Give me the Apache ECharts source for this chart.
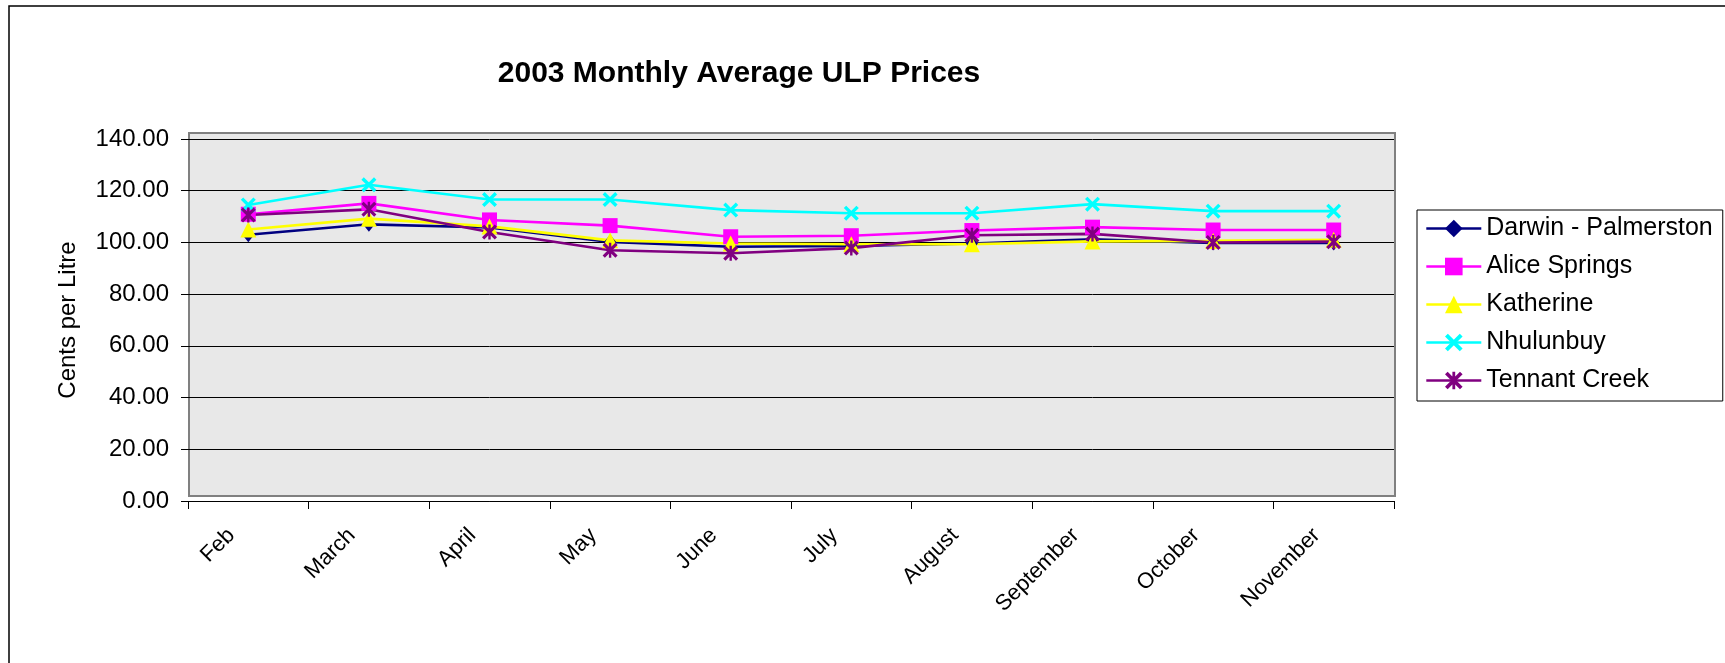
<!DOCTYPE html>
<html>
<head>
<meta charset="utf-8">
<script src="https://cdn.jsdelivr.net/npm/echarts@6/dist/echarts.min.js"></script>
<style>
html,body{margin:0;padding:0;background:#fff;}
#chart{width:1725px;height:663px;}
</style>
</head>
<body>
<div id="chart"></div>
<script>
const categories = ['Feb','March','April','May','June','July','August','September','October','November'];
const darwin    = [103.0, 107.0, 105.8, 100.2, 98.3, 98.6, 99.6, 101.2, 99.8, 99.8];
const alice     = [110.9, 115.1, 108.7, 106.5, 102.2, 102.6, 104.6, 105.9, 104.8, 104.8];
const katherine = [105.0, 109.2, 106.2, 100.8, 99.6, 99.3, 99.3, 100.4, 100.6, 101.0];
const nhulunbuy = [114.5, 122.3, 116.6, 116.6, 112.5, 111.3, 111.3, 114.8, 112.1, 112.1];
const tennant   = [110.6, 112.8, 104.0, 97.0, 95.8, 97.8, 102.8, 103.3, 100.0, 100.3];
const seriesNames = ['Darwin - Palmerston','Alice Springs','Katherine','Nhulunbuy','Tennant Creek'];
const yTicks = [0, 20, 40, 60, 80, 100, 120, 140];

const FONT = '"Liberation Sans", Arial, sans-serif';
const xPath = 'path://M0,1.6L1.6,0L10,8.4L8.4,10ZM8.4,0L10,1.6L1.6,10L0,8.4Z';
const starPath = 'path://M0,1.5L1.5,0L10,8.5L8.5,10ZM8.5,0L10,1.5L1.5,10L0,8.5ZM4.2,0H5.8V10H4.2Z';

function mk(name, data, color, symbol, size) {
  return {
    name: name, type: 'line', data: data,
    symbol: symbol, symbolSize: size,
    lineStyle: {color: color, width: 2.6},
    itemStyle: {color: color, borderWidth: 0},
    emphasis: {disabled: true},
    animation: false
  };
}

const chart = echarts.init(document.getElementById('chart'), null, {renderer: 'canvas'});
chart.setOption({
  animation: false,
  backgroundColor: '#ffffff',
  textStyle: {fontFamily: FONT},
  title: {
    text: '2003 Monthly Average ULP Prices',
    left: 734, top: 54, textAlign: 'center',
    textStyle: {fontFamily: FONT, fontSize: 30, fontWeight: 'bold', color: '#000'}
  },
  graphic: [
    {type: 'rect', z: -10, shape: {x: 9, y: 6, width: 1730, height: 700}, style: {fill: 'none', stroke: '#000', lineWidth: 1.5}},
    {type: 'rect', z: -5, shape: {x: 189, y: 133, width: 1206, height: 363}, style: {fill: '#E8E8E8', stroke: '#808080', lineWidth: 2}}
  ],
  legend: {
    orient: 'vertical',
    left: 1417, top: 210,
    data: seriesNames,
    itemWidth: 55, itemHeight: 22, itemGap: 13,
    padding: [6, 10, 8, 8],
    borderColor: '#000', borderWidth: 1,
    lineStyle: {width: 2.6},
    textStyle: {fontFamily: FONT, fontSize: 25, color: '#000', lineHeight: 25},
    selectedMode: false
  },
  grid: {left: 188, top: 139, width: 1206, height: 362, containLabel: false},
  xAxis: {
    type: 'category', data: categories, boundaryGap: true,
    axisLine: {show: true, lineStyle: {color: '#000', width: 1}},
    axisTick: {show: true, length: 8, lineStyle: {color: '#000'}},
    axisLabel: {rotate: 45, fontSize: 22, color: '#000', fontFamily: FONT, margin: 14, padding: [0, 24, 0, 0], interval: 0},
    splitLine: {show: false}
  },
  yAxis: {
    type: 'value', min: 0, max: 140, interval: 20,
    name: 'Cents per Litre', nameLocation: 'middle', nameGap: 108, nameRotate: 90,
    nameTextStyle: {fontFamily: FONT, fontSize: 24, color: '#000'},
    axisLine: {show: false},
    axisTick: {show: true, length: 7, lineStyle: {color: '#000'}},
    axisLabel: {fontSize: 24, color: '#000', fontFamily: FONT, margin: 19,
      formatter: function (v) { return yTicks.indexOf(v) >= 0 ? v.toFixed(2) : ''; }},
    splitLine: {show: true, lineStyle: {color: '#000', width: 1}}
  },
  series: [
    mk(seriesNames[0], darwin, '#000080', 'diamond', [12, 15]),
    mk(seriesNames[1], alice, '#FF00FF', 'rect', 15),
    mk(seriesNames[2], katherine, '#FFFF00', 'triangle', 16),
    mk(seriesNames[3], nhulunbuy, '#00FFFF', xPath, 15),
    mk(seriesNames[4], tennant, '#800080', starPath, 15)
  ]
});
</script>
</body>
</html>
